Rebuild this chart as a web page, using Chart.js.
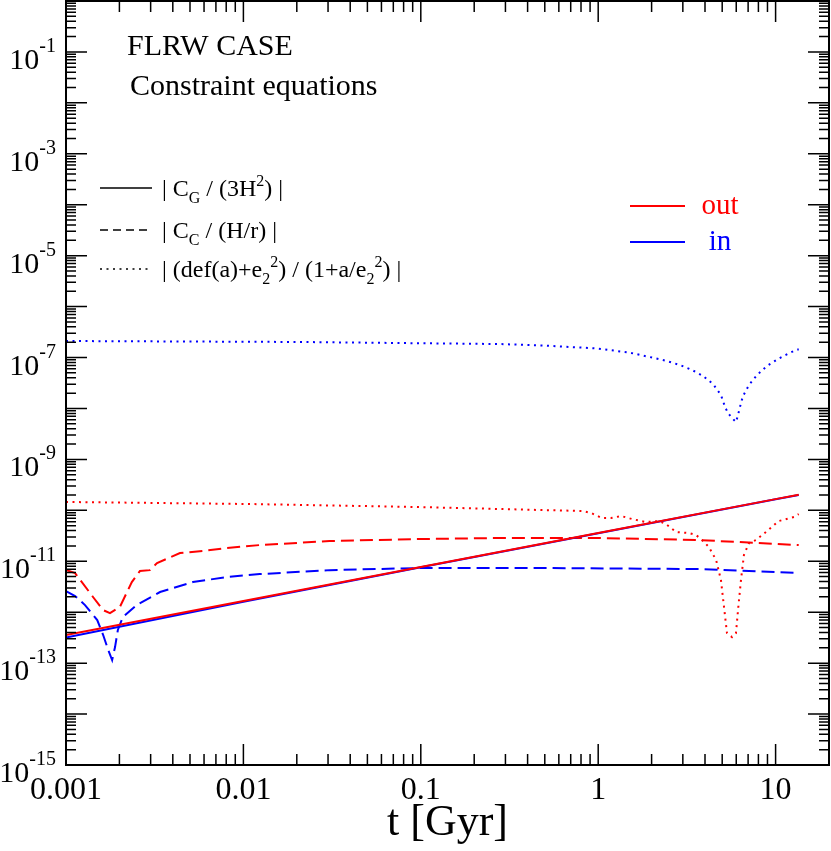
<!DOCTYPE html>
<html lang="en">
<head>
<meta charset="UTF-8">
<title>FLRW case - constraint equations</title>
<script src="https://cdn.jsdelivr.net/npm/chart.js"></script>
<style>
  html, body { margin: 0; padding: 0; background: #fff; }
  #wrap { width: 831px; height: 851px; }
</style>
</head>
<body>
<div id="wrap"><canvas id="constraints"></canvas></div>
<script>
// |C_G / (3H^2)|  (solid)
const tCG = [0.001, 0.01, 0.1, 1, 10, 13.5];
const cgOut = [3.56e-13, 1.66e-12, 7.7e-12, 3.6e-11, 1.66e-10, 2.03e-10];
const cgIn = [3.2e-13, 1.6e-12, 7.6e-12, 3.55e-11, 1.65e-10, 2.0e-10];

// |C_C / (H/r)|  (dashed)
const tCCOut = [0.001, 0.001125, 0.00142, 0.00162, 0.00177, 0.00201, 0.00235, 0.00261, 0.00297, 0.00326,
  0.00439, 0.0059, 0.00807, 0.01236, 0.0306, 0.098, 0.277, 1.01, 3.7, 13.5];
const ccOut = [6.73e-12, 5.87e-12, 1.99e-12, 1.10e-12, 9.6e-13, 1.26e-12, 3.91e-12, 6.43e-12, 6.7e-12, 9.2e-12,
  1.45e-11, 1.59e-11, 1.82e-11, 2.08e-11, 2.5e-11, 2.73e-11, 2.86e-11, 2.86e-11, 2.61e-11, 2.08e-11];
const tCCIn = [0.001, 0.001125, 0.00128, 0.0015, 0.00162, 0.00173, 0.00182, 0.00189, 0.00196, 0.00209,
  0.0025, 0.00339, 0.00519, 0.00807, 0.01236, 0.0306, 0.098, 0.53, 3.7, 13.5];
const ccIn = [2.6e-12, 2.08e-12, 1.38e-12, 7.0e-13, 3.56e-13, 1.81e-13, 1.15e-13, 2.07e-13, 4.47e-13, 8.0e-13,
  1.38e-12, 2.49e-12, 3.91e-12, 4.9e-12, 5.6e-12, 6.7e-12, 7.36e-12, 7.36e-12, 7.03e-12, 5.87e-12];

// |(def(a)+e2^2) / (1+a/e2^2)|  (dotted)
const tDefOut = [0.001, 0.01086, 0.098, 0.813, 0.913, 1.05, 1.18, 1.35, 1.55, 1.86, 2.2, 2.41, 2.75, 3.25, 3.56,
  3.8, 4.21, 4.62, 4.92, 5.12, 5.32, 5.68, 5.98, 6.14, 6.38, 6.63, 7.08, 7.75, 8.82, 10.4, 12.7, 13.5];
const defOut = [1.46e-10, 1.33e-10, 1.16e-10, 9.7e-11, 8.85e-11, 7.06e-11, 7.06e-11, 7.73e-11, 6.75e-11, 5.89e-11,
  6.16e-11, 5.38e-11, 3.75e-11, 3.58e-11, 3.27e-11, 2.73e-11, 1.9e-11, 1.06e-11, 4.28e-12, 1.26e-12, 3.9e-13,
  3.25e-13, 3.9e-13, 1.10e-12, 4.28e-12, 1.33e-11, 2.28e-11, 2.61e-11, 3.75e-11, 6.16e-11, 7.38e-11, 8.45e-11];
const tDefIn = [0.001, 0.0208, 0.277, 0.5, 1.0, 1.5, 2.07, 2.44, 2.89, 3.38, 3.9, 4.44, 4.92, 5.19, 5.39, 5.68, 5.98,
  6.14, 6.38, 6.55, 7.08, 7.86, 8.93, 10.3, 12.0, 13.0, 13.5];
const defIn = [2.11e-7, 2.02e-7, 1.84e-7, 1.72e-7, 1.50e-7, 1.25e-7, 9.78e-8, 8.54e-8, 7.13e-8, 5.69e-8, 4.34e-8,
  3.02e-8, 1.84e-8, 1.07e-8, 8.13e-9, 6.49e-9, 5.42e-9, 7.43e-9, 1.28e-8, 1.75e-8, 2.89e-8, 4.54e-8, 6.81e-8,
  9.35e-8, 1.23e-7, 1.40e-7, 1.45e-7];

// axis ticks
const xTicks = [0.001, 0.01, 0.1, 1, 10];
const xTickLabels = ['0.001', '0.01', '0.1', '1', '10'];
const yLabelExps = [-1, -3, -5, -7, -9, -11, -13, -15];

const RED = '#ff0000';
const BLUE = '#0000ff';
const FONT = '"Liberation Serif", "Times New Roman", serif';

const pts = (ts, vs) => ts.map((t, i) => ({ x: t, y: vs[i] }));

const line = (label, ts, vs, color, dash) => ({
  label: label,
  data: pts(ts, vs),
  borderColor: color,
  borderWidth: 2,
  borderDash: dash,
  pointRadius: 0,
  tension: 0,
  fill: false
});

// draw text with sub / superscripts (xmgrace style, each one advances)
function richText(ctx, x, y, parts, size, color) {
  const small = Math.round(size * 0.68);
  ctx.fillStyle = color;
  ctx.textAlign = 'left';
  ctx.textBaseline = 'alphabetic';
  for (const p of parts) {
    if (typeof p === 'string') {
      ctx.font = size + 'px ' + FONT;
      ctx.fillText(p, x, y);
      x += ctx.measureText(p).width;
    } else {
      ctx.font = small + 'px ' + FONT;
      if (p.sub) {
        ctx.fillText(p.sub, x, y + size * 0.28);
        x += ctx.measureText(p.sub).width;
      }
      if (p.sup) {
        ctx.fillText(p.sup, x, y - size * 0.42);
        x += ctx.measureText(p.sup).width;
      }
    }
  }
}

const decorations = {
  id: 'decorations',
  afterDraw(chart) {
    const { ctx, chartArea: a, scales: { x, y } } = chart;
    ctx.save();

    // tick marks, inside, on all four sides
    ctx.strokeStyle = '#000';
    ctx.lineWidth = 1.5;
    ctx.beginPath();
    for (let k = -3; k <= 1; k++) {
      for (let m = 1; m <= 9; m++) {
        const v = m * Math.pow(10, k);
        if (v >= x.max) break;
        const px = x.getPixelForValue(v);
        const len = m === 1 ? 21 : 11;
        ctx.moveTo(px, a.bottom); ctx.lineTo(px, a.bottom - len);
        ctx.moveTo(px, a.top); ctx.lineTo(px, a.top + len);
      }
    }
    for (let k = -15; k <= 0; k++) {
      for (let m = 1; m <= 9; m++) {
        const v = m * Math.pow(10, k);
        if (v > y.max) break;
        const py = y.getPixelForValue(v);
        const len = m === 1 ? 21 : 10;
        ctx.moveTo(a.left, py); ctx.lineTo(a.left + len, py);
        ctx.moveTo(a.right, py); ctx.lineTo(a.right - len, py);
      }
    }
    ctx.stroke();

    // frame
    ctx.lineWidth = 2;
    ctx.strokeRect(a.left, a.top, a.right - a.left, a.bottom - a.top);

    // y tick labels 10^n
    ctx.fillStyle = '#000';
    ctx.textAlign = 'right';
    ctx.textBaseline = 'alphabetic';
    for (const e of yLabelExps) {
      const py = y.getPixelForValue(Math.pow(10, e));
      ctx.font = '20px ' + FONT;
      const exp = String(e);
      const w = ctx.measureText(exp).width;
      ctx.fillText(exp, 56, py);
      ctx.font = '30px ' + FONT;
      ctx.fillText('10', 56 - w, py + 17);
    }

    // titles
    ctx.textAlign = 'left';
    ctx.font = '30px ' + FONT;
    ctx.fillText('FLRW CASE', 127, 55);
    ctx.fillText('Constraint equations', 130, 95);

    // line style legend
    const styles = [
      { dash: [], y: 188, parts: ['| C', { sub: 'G' }, ' / (3H', { sup: '2' }, ') |'] },
      { dash: [8, 5], y: 230, parts: ['| C', { sub: 'C' }, ' / (H/r) |'] },
      { dash: [2, 4.5], y: 269, parts: ['| (def(a)+e', { sub: '2', sup: '2' }, ') / (1+a/e', { sub: '2', sup: '2' }, ') |'] }
    ];
    ctx.strokeStyle = '#000';
    ctx.lineWidth = 1.5;
    for (const s of styles) {
      ctx.setLineDash(s.dash);
      ctx.beginPath();
      ctx.moveTo(100, s.y); ctx.lineTo(152, s.y);
      ctx.stroke();
      richText(ctx, 162, s.y + 8, s.parts, 24, '#000');
    }
    ctx.setLineDash([]);

    // colour legend
    const colours = [
      { c: RED, y: 206, text: 'out' },
      { c: BLUE, y: 242, text: 'in' }
    ];
    ctx.lineWidth = 2;
    ctx.font = '29px ' + FONT;
    ctx.textAlign = 'center';
    for (const s of colours) {
      ctx.strokeStyle = s.c;
      ctx.beginPath();
      ctx.moveTo(630, s.y); ctx.lineTo(685, s.y);
      ctx.stroke();
      ctx.fillStyle = s.c;
      ctx.fillText(s.text, 720, s.y + 8);
    }
    ctx.restore();
  }
};

new Chart(document.getElementById('constraints'), {
  type: 'line',
  data: {
    datasets: [
      line('C_G out', tCG, cgOut, RED, []),
      line('C_G in', tCG, cgIn, BLUE, []),
      line('C_C out', tCCOut, ccOut, RED, [13, 6]),
      line('C_C in', tCCIn, ccIn, BLUE, [13, 6]),
      line('def out', tDefOut, defOut, RED, [2, 4.5]),
      line('def in', tDefIn, defIn, BLUE, [2, 4.5])
    ]
  },
  options: {
    responsive: true,
    maintainAspectRatio: false,
    animation: false,
    layout: { padding: { top: 1, right: 2, left: 0, bottom: 0 } },
    plugins: { legend: { display: false }, tooltip: { enabled: false } },
    scales: {
      x: {
        type: 'logarithmic',
        min: 0.001,
        max: 20,
        afterBuildTicks: s => { s.ticks = xTicks.map(v => ({ value: v })); },
        afterFit: s => { s.height = 86; },
        grid: { display: false, drawTicks: false },
        border: { display: false },
        ticks: {
          autoSkip: false,
          maxRotation: 0,
          padding: 6,
          color: '#000',
          font: { family: FONT, size: 32 },
          callback: (v, i) => xTickLabels[i]
        },
        title: {
          display: true,
          text: 't [Gyr]',
          color: '#000',
          font: { family: FONT, size: 44 },
          padding: { top: 0, bottom: 1 }
        }
      },
      y: {
        type: 'logarithmic',
        min: 1e-15,
        max: 1,
        afterFit: s => { s.width = 66; },
        grid: { display: false, drawTicks: false },
        border: { display: false },
        ticks: { display: false }
      }
    }
  },
  plugins: [decorations]
});
</script>
</body>
</html>
